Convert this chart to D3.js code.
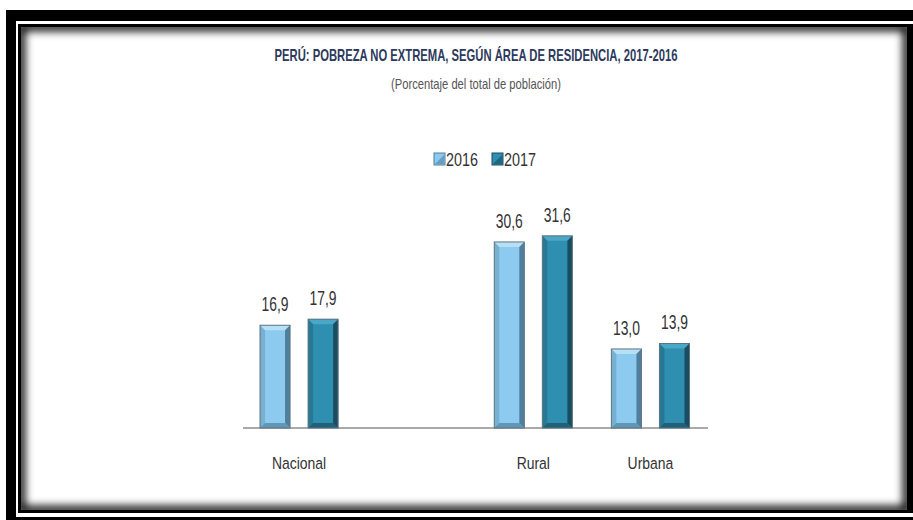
<!DOCTYPE html>
<html>
<head>
<meta charset="utf-8">
<script src="https://cdn.jsdelivr.net/npm/d3@7"></script>
<style>
  body { margin: 0; background: #fff; }
  svg { display: block; }
  text { font-family: "Liberation Sans Narrow", "Arial Narrow", "Liberation Sans", Arial, sans-serif; }
</style>
</head>
<body>
<div id="container"></div>
<script>
/* DATA */
const categories = ["Nacional", "Rural", "Urbana"];
const years = ["2016", "2017"];
const values2016 = [16.9, 30.6, 13.0];
const values2017 = [17.9, 31.6, 13.9];
const valueLabels2016 = ["16,9", "30,6", "13,0"];
const valueLabels2017 = ["17,9", "31,6", "13,9"];

/* CONSTANTS */
const width = 913;
const height = 520;
const baseY = 428;
const colors = { "2016": "#8ccbef", "2017": "#2e8fb0" };
const darkSide = { "2016": "#4f7f9c", "2017": "#1b4d62" };
const lightTop = { "2016": "#b7e0f7", "2017": "#4aa7c6" };

const svg = d3.select("#container")
  .append("svg")
  .attr("width", width)
  .attr("height", height);

const defs = svg.append("defs");
const blur = defs.append("filter").attr("id", "inner").attr("x", "-5%").attr("y", "-5%").attr("width", "110%").attr("height", "110%");
blur.append("feGaussianBlur").attr("stdDeviation", 4);
defs.append("clipPath").attr("id", "innerClip")
  .append("rect").attr("x", 21).attr("y", 27).attr("width", 886).attr("height", 483);

/* FRAME */
svg.append("rect").attr("x", 6).attr("y", 10).attr("width", 910).attr("height", 512).attr("fill", "#000");
svg.append("rect").attr("x", 16).attr("y", 21).attr("width", 900).attr("height", 496).attr("fill", "#fff");
svg.append("rect").attr("x", 18).attr("y", 24).attr("width", 895).attr("height", 489).attr("fill", "#000");
svg.append("rect").attr("x", 21).attr("y", 27).attr("width", 886).attr("height", 483).attr("fill", "#fff");
svg.append("g").attr("clip-path", "url(#innerClip)")
  .append("rect")
  .attr("x", 21).attr("y", 27).attr("width", 886).attr("height", 483)
  .attr("fill", "none").attr("stroke", "#000").attr("stroke-width", 8)
  .attr("filter", "url(#inner)");

/* SCALES */
const x0 = d3.scaleBand()
  .domain(["Nacional", "_gap", "Rural", "Urbana"])
  .range([240.5, 709]);

const x1 = d3.scaleBand()
  .domain(years)
  .range([0, x0.bandwidth()])
  .paddingInner(0.375)
  .paddingOuter(0.406);

const y = d3.scaleLinear()
  .domain([0, 35])
  .range([baseY, baseY - 35 * 6.08]);

/* TITLES */
svg.append("text")
  .attr("x", 476).attr("y", 61)
  .attr("text-anchor", "middle")
  .attr("textLength", 403).attr("lengthAdjust", "spacingAndGlyphs")
  .style("font-size", "17px").style("font-weight", "bold")
  .attr("fill", "#2c3a5c")
  .text("PERÚ: POBREZA NO EXTREMA, SEGÚN ÁREA DE RESIDENCIA, 2017-2016");

svg.append("text")
  .attr("x", 476).attr("y", 89)
  .attr("text-anchor", "middle")
  .attr("textLength", 170).attr("lengthAdjust", "spacingAndGlyphs")
  .style("font-size", "15px")
  .attr("fill", "#555")
  .text("(Porcentaje del total de población)");

/* LEGEND */
const legendX = [434, 492];
years.forEach((yr, i) => {
  const g = svg.append("g").attr("transform", `translate(${legendX[i]},153)`);
  g.append("rect").attr("width", 11).attr("height", 12).attr("fill", colors[yr]).attr("stroke", darkSide[yr]).attr("stroke-width", 1);
  g.append("path").attr("d", "M1,11 L10,2 L10,11 Z").attr("fill", darkSide[yr]).attr("opacity", 0.6);
  g.append("text").attr("x", 12).attr("y", 13)
    .attr("textLength", 32).attr("lengthAdjust", "spacingAndGlyphs")
    .style("font-size", "18px").attr("fill", "#333")
    .text(yr);
});

/* BARS */
const series = { "2016": values2016, "2017": values2017 };
const labels = { "2016": valueLabels2016, "2017": valueLabels2017 };
const rows = [];
categories.forEach((c, i) => {
  years.forEach(yr => rows.push({ cat: c, year: yr, value: series[yr][i], label: labels[yr][i] }));
});

// axis baseline
svg.append("line")
  .attr("x1", 243).attr("x2", 708)
  .attr("y1", y(0)).attr("y2", y(0))
  .attr("stroke", "#8c8c8c").attr("stroke-width", 1.5);

const bars = svg.selectAll("g.bar")
  .data(rows)
  .enter()
  .append("g")
  .attr("class", "bar")
  .attr("transform", d => `translate(${x0(d.cat) + x1(d.year)},0)`);

const bw = x1.bandwidth();
const bev = 5;

bars.append("rect")
  .attr("x", 0)
  .attr("y", d => y(d.value))
  .attr("width", bw)
  .attr("height", d => y(0) - y(d.value))
  .attr("fill", d => colors[d.year]);

// bevel: top light, right dark, bottom dark, left slightly dark
bars.append("path")
  .attr("d", d => { const t = y(d.value); return `M0,${t} L${bw},${t} L${bw - bev},${t + bev} L${bev},${t + bev} Z`; })
  .attr("fill", d => lightTop[d.year]);
bars.append("path")
  .attr("d", d => { const t = y(d.value), b = y(0); return `M${bw},${t} L${bw},${b} L${bw - bev},${b - bev} L${bw - bev},${t + bev} Z`; })
  .attr("fill", d => darkSide[d.year]);
bars.append("path")
  .attr("d", d => { const b = y(0); return `M0,${b} L${bw},${b} L${bw - bev},${b - bev} L${bev},${b - bev} Z`; })
  .attr("fill", d => darkSide[d.year]).attr("opacity", 0.7);
bars.append("path")
  .attr("d", d => { const t = y(d.value), b = y(0); return `M0,${t} L${bev},${t + bev} L${bev},${b - bev} L0,${b} Z`; })
  .attr("fill", d => darkSide[d.year]).attr("opacity", 0.35);
bars.append("rect")
  .attr("x", 0)
  .attr("y", d => y(d.value))
  .attr("width", bw)
  .attr("height", d => y(0) - y(d.value))
  .attr("fill", "none")
  .attr("stroke", "#5f7480").attr("stroke-width", 1);

/* VALUE LABELS */
bars.append("text")
  .attr("transform", d => `translate(${bw / 2},${y(d.value) - 14}) scale(0.66,1)`)
  .attr("text-anchor", "middle")
  .style("font-size", "21px")
  .attr("fill", "#333")
  .text(d => d.label);

/* CATEGORY LABELS */
svg.selectAll("text.cat")
  .data(categories)
  .enter()
  .append("text")
  .attr("class", "cat")
  .attr("transform", d => `translate(${x0(d) + x0.bandwidth() / 2},469) scale(0.82,1)`)
  .attr("text-anchor", "middle")
  .style("font-size", "17px")
  .attr("fill", "#333")
  .text(d => d);
</script>
</body>
</html>
